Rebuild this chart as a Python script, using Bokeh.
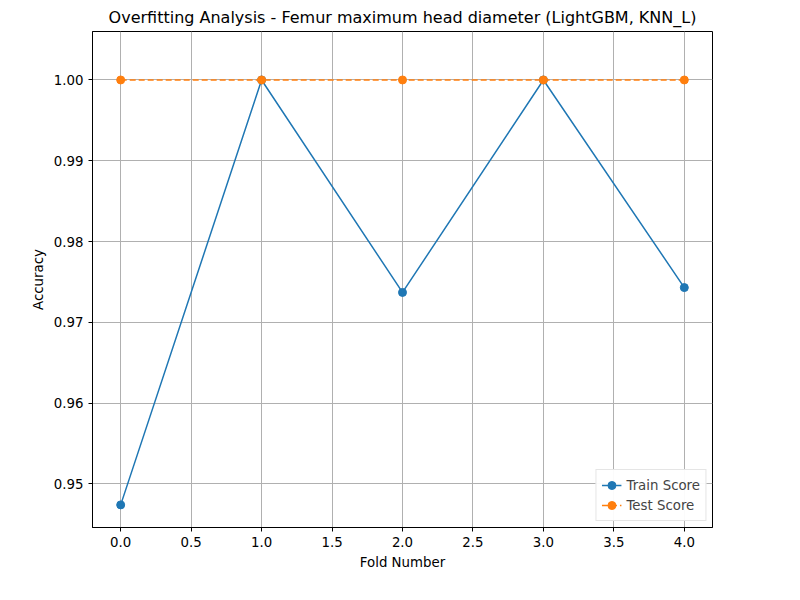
from bokeh.plotting import figure
from bokeh.models import Range1d, Legend, LegendItem, FixedTicker, PrintfTickFormatter
from bokeh.embed import file_html
from bokeh.resources import INLINE

folds = [0, 1, 2, 3, 4]
train_score = [0.9474, 1.0, 0.9737, 1.0, 0.9743]
test_score = [1.0, 1.0, 1.0, 1.0, 1.0]

p = figure(width=784, height=584, output_backend="svg", toolbar_location=None,
           title="Overfitting Analysis - Femur maximum head diameter (LightGBM, KNN_L)",
           x_range=Range1d(-0.2, 4.2), y_range=Range1d(0.9446, 1.0060),
           min_border_left=92, min_border_right=72, min_border_bottom=57, min_border_top=25)
p.title.align = "center"
p.title.text_font = "DejaVu Sans"
p.title.text_font_size = "12pt"
p.title.text_font_style = "normal"
p.title.text_color = "black"

p.xaxis.axis_label = "Fold Number"
p.yaxis.axis_label = "Accuracy"
for ax in (p.xaxis, p.yaxis):
    ax.axis_label_text_font = "DejaVu Sans"
    ax.axis_label_text_font_style = "normal"
    ax.axis_label_text_font_size = "10pt"
    ax.axis_label_text_color = "black"
    ax.major_label_text_font = "DejaVu Sans"
    ax.major_label_text_font_size = "10pt"
    ax.major_label_text_color = "black"
    ax.minor_tick_line_color = None
    ax.major_tick_in = 0
    ax.major_tick_out = 4
p.xaxis.ticker = FixedTicker(ticks=[0, 0.5, 1, 1.5, 2, 2.5, 3, 3.5, 4])
p.xaxis.formatter = PrintfTickFormatter(format="%.1f")
p.yaxis.ticker = FixedTicker(ticks=[0.95, 0.96, 0.97, 0.98, 0.99, 1.0])
p.yaxis.formatter = PrintfTickFormatter(format="%.2f")
p.xgrid.grid_line_color = "#b0b0b0"
p.ygrid.grid_line_color = "#b0b0b0"
p.outline_line_color = "black"

l1 = p.line(folds, train_score, line_color="#1f77b4", line_width=1.5)
c1 = p.scatter(folds, train_score, size=8, fill_color="#1f77b4", line_color="#1f77b4")
l2 = p.line(folds, test_score, line_color="#ff7f0e", line_width=1.5, line_dash="6 3")
c2 = p.scatter(folds, test_score, size=8, fill_color="#ff7f0e", line_color="#ff7f0e")

legend = Legend(items=[LegendItem(label="Train Score", renderers=[l1, c1]),
                       LegendItem(label="Test Score", renderers=[l2, c2])],
                location="bottom_right", label_text_font="DejaVu Sans",
                label_text_font_size="10pt", border_line_color="#cccccc",
                spacing=0, padding=5, margin=6)
p.add_layout(legend)

open("out.html", "w").write(file_html(p, INLINE))
